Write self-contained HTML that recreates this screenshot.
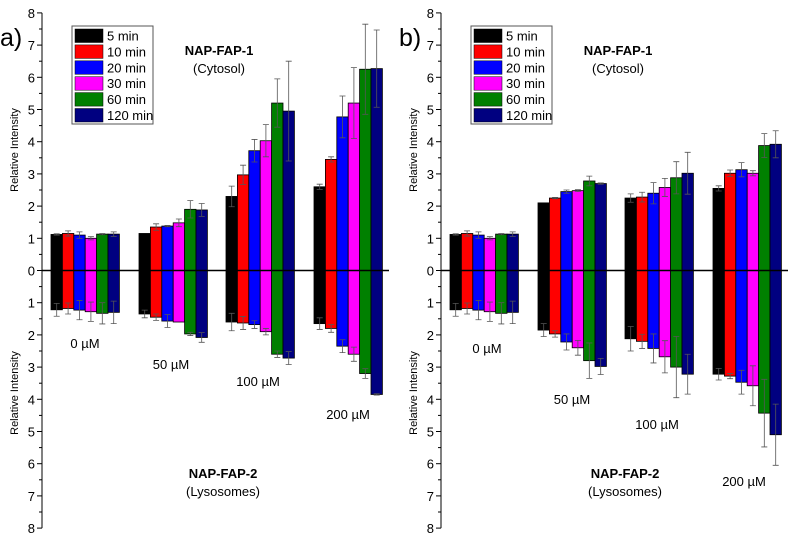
<!DOCTYPE html>
<html><head><meta charset="utf-8"><style>
body{margin:0;background:#fff}
svg{display:block;font-family:"Liberation Sans",sans-serif}
</style></head><body>
<svg id="s" width="799" height="544" xmlns="http://www.w3.org/2000/svg"></svg>
<script>
const S=document.getElementById('s');
let h='';
const cols=['#000000','#ff0000','#0000ff','#ff00ff','#008000','#000080'];
const U=32.2, Y0=270.5;
const starts=[51,139,226,314], bw=11.4;
const A={
 top:[[1.12,1.15,1.1,1.0,1.13,1.13],[1.15,1.35,1.38,1.48,1.9,1.88],[2.3,2.97,3.72,4.03,5.2,4.95],[2.6,3.45,4.77,5.2,6.25,6.27]],
 te:[[.02,.08,.1,.05,.02,.07],[0,.1,.02,.12,.27,.2],[.32,.3,.35,.5,.75,1.55],[.08,.08,.65,1.1,1.4,1.2]],
 bot:[[1.22,1.18,1.23,1.28,1.33,1.3],[1.35,1.45,1.57,1.6,1.97,2.08],[1.6,1.63,1.68,1.9,2.6,2.72],[1.65,1.8,2.35,2.6,3.2,3.85]],
 be:[[.2,.17,.3,.3,.33,.35],[.12,.1,.2,0,.05,.15],[.27,.2,.12,.1,.1,.2],[.18,.12,.2,.22,.15,.02]]};
const B={
 top:[[1.12,1.15,1.1,1.0,1.13,1.13],[2.1,2.25,2.45,2.48,2.78,2.7],[2.25,2.28,2.4,2.58,2.88,3.02],[2.55,3.02,3.13,3.02,3.88,3.92]],
 te:[[.02,.08,.1,.05,.02,.07],[0,.02,.05,.03,.15,.02],[.13,.15,.33,.28,.5,.65],[.08,.1,.22,.08,.37,.42]],
 bot:[[1.22,1.18,1.23,1.28,1.33,1.3],[1.85,1.97,2.22,2.4,2.8,2.98],[2.12,2.2,2.42,2.68,3.0,3.22],[3.22,3.28,3.47,3.58,4.43,5.1]],
 be:[[.2,.17,.3,.3,.33,.35],[.2,.1,.25,.23,.55,.25],[.38,.22,.45,.5,.95,.62],[.18,.08,.37,.62,1.05,.95]]};
function panel(ox,D,lab,conc){
 const ax=ox+42;
 // axis
 h+=`<line x1="${ax}" y1="${Y0-8*U}" x2="${ax}" y2="${Y0+8*U}" stroke="#000" stroke-width="1"/>`;
 for(let i=0;i<=16;i++){
  const y1=Y0-i*U/2, y2=Y0+i*U/2, L=i%2?3:5;
  h+=`<line x1="${ax-L}" y1="${y1}" x2="${ax}" y2="${y1}" stroke="#000"/><line x1="${ax-L}" y1="${y2}" x2="${ax}" y2="${y2}" stroke="#000"/>`;
  if(i%2==0){const v=i/2;
   h+=`<text x="${ax-7}" y="${y1+5}" font-size="13" text-anchor="end">${v}</text>`;
   if(v>0)h+=`<text x="${ax-7}" y="${y2+5}" font-size="13" text-anchor="end">${v}</text>`;}
 }
 h+=`<text transform="translate(${ox+18},150) rotate(-90)" font-size="11" text-anchor="middle">Relative Intensity</text>`;
 h+=`<text transform="translate(${ox+18},393) rotate(-90)" font-size="11" text-anchor="middle">Relative Intensity</text>`;
 for(let g=0;g<4;g++)for(let k=0;k<6;k++){
  const x=ox+starts[g]+k*bw, cx=x+bw/2;
  const t=D.top[g][k], b=D.bot[g][k];
  h+=`<rect x="${x}" y="${Y0-t*U}" width="${bw}" height="${t*U}" fill="${cols[k]}" stroke="#000" stroke-width="0.8"/>`;
  h+=`<rect x="${x}" y="${Y0}" width="${bw}" height="${b*U}" fill="${cols[k]}" stroke="#000" stroke-width="0.8"/>`;
  const te=D.te[g][k], be=D.be[g][k];
  if(te>0){h+=`<path d="M${cx} ${Y0-(t-te)*U}V${Y0-(t+te)*U}M${cx-3} ${Y0-(t+te)*U}h6M${cx-3} ${Y0-(t-te)*U}h6" stroke="#555" stroke-width="0.8" fill="none"/>`;}
  if(be>0){h+=`<path d="M${cx} ${Y0+(b-be)*U}V${Y0+(b+be)*U}M${cx-3} ${Y0+(b+be)*U}h6M${cx-3} ${Y0+(b-be)*U}h6" stroke="#555" stroke-width="0.8" fill="none"/>`;}
 }
 h+=`<line x1="${ax}" y1="${Y0}" x2="${ox+389}" y2="${Y0}" stroke="#000" stroke-width="1.5"/>`;
 // legend
 const lx=ox+72;
 h+=`<rect x="${lx}" y="26" width="81" height="98" fill="#fff" stroke="#555"/>`;
 const names=['5 min','10 min','20 min','30 min','60 min','120 min'];
 for(let k=0;k<6;k++){const y=29+k*15.9;
  h+=`<rect x="${lx+3}" y="${y}" width="28" height="13.5" fill="${cols[k]}" stroke="#000" stroke-width="0.5"/>`;
  h+=`<text x="${lx+35}" y="${y+11.5}" font-size="13">${names[k]}</text>`;}
 h+=`<text x="${ox}" y="46" font-size="25">${lab}</text>`;
 const tc=ox+219;
 h+=`<text x="${tc}" y="55" font-size="13" font-weight="bold" text-anchor="middle">NAP-FAP-1</text>`;
 h+=`<text x="${tc}" y="73" font-size="13" text-anchor="middle">(Cytosol)</text>`;
 h+=`<text x="${ox+conc.nc}" y="478" font-size="13" font-weight="bold" text-anchor="middle">NAP-FAP-2</text>`;
 h+=`<text x="${ox+conc.nc}" y="496" font-size="13" text-anchor="middle">(Lysosomes)</text>`;
 const cl=['0','50','100','200'];
 for(let i=0;i<4;i++)h+=`<text x="${ox+conc.x[i]}" y="${conc.y[i]}" font-size="13" text-anchor="middle">${cl[i]} µM</text>`;
}
panel(0,A,'a)',{nc:223,x:[85,171,258,348],y:[348,369,386,419]});
panel(399,B,'b)',{nc:226,x:[88,173,258,345],y:[353,404,429,486]});
S.innerHTML=h;
</script>
</body></html>
